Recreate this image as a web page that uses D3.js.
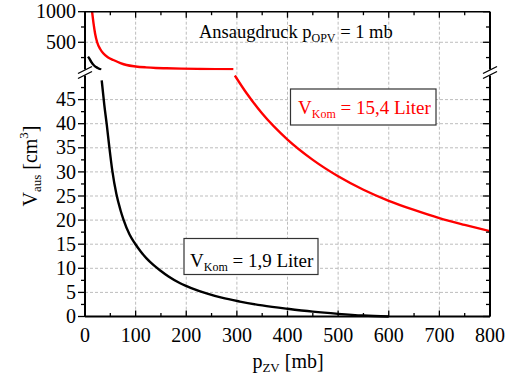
<!DOCTYPE html>
<html>
<head>
<meta charset="utf-8">
<script src="https://cdn.jsdelivr.net/npm/d3@7"></script>
<style>
  html, body { margin: 0; padding: 0; background: #fff; }
  svg { display: block; font-family: "Liberation Serif", "Times New Roman", serif; }
</style>
</head>
<body>
<svg id="chart" width="513" height="379"></svg>
<script>
// Intake pressure p_ZV [mb] and expelled volume V_aus [cm³]
// Large chamber (15,4 Liter), upper (compressed) range of the y axis
const redUpperP = [14, 17, 20, 24, 30, 36, 45, 56, 70, 82, 100, 120, 140, 161, 190, 227, 260, 293];
const redUpperV = [1000, 800, 640, 500, 390, 320, 255, 210, 160, 128, 105, 90, 80, 75, 69, 64, 61, 59];
// Large chamber, lower range
const redLowerP = [296, 320, 350, 400, 450, 500, 550, 600, 650, 700, 750, 800];
const redLowerV = [50.0, 46.2, 42.1, 36.7, 32.5, 29.1, 26.3, 24.0, 22.1, 20.4, 19.0, 17.7];
// Small chamber (1,9 Liter), upper range
const blackUpperP = [6, 9, 13, 18, 25, 32];
const blackUpperV = [265, 230, 170, 120, 80, 52];
// Small chamber, lower range
const blackLowerP = [33, 38, 43, 48, 54, 62, 70, 76, 88, 99, 110, 122, 135, 148, 165, 188, 210, 240, 270, 306, 350, 400, 450, 500, 550, 600];
const blackLowerV = [49, 44, 39.8, 35.2, 30.2, 25.4, 22.1, 20.1, 17.0, 15.1, 13.5, 12.0, 10.7, 9.6, 8.3, 6.9, 5.9, 4.8, 3.9, 3.1, 2.3, 1.6, 1.0, 0.55, 0.2, 0];

// Axis ticks
const xTicks = [0, 100, 200, 300, 400, 500, 600, 700, 800];
const xMinor = [50, 150, 250, 350, 450, 550, 650, 750];
const yUpTicks = [500, 1000];
const yUpMinor = [250, 750];
const yLoTicks = [0, 5, 10, 15, 20, 25, 30, 35, 40, 45];
const yLoMinor = [2.5, 7.5, 12.5, 17.5, 22.5, 27.5, 32.5, 37.5, 42.5, 47.5];

const svg = d3.select("#chart");
const x = d3.scaleLinear().domain([0, 800]).range([85, 490]);
const yUp = d3.scaleLinear().domain([50, 1000]).range([69.8, 11.7]);
const yLo = d3.scaleLinear().domain([0, 50]).range([316.5, 75.5]);
const L = 85, R = 490, T = 11.7, B = 316.5, breakY = 72.5;

// clip regions for the two y ranges
const defs = svg.append("defs");
defs.append("clipPath").attr("id", "clipUp").append("rect")
  .attr("x", L).attr("y", T).attr("width", R - L).attr("height", yUp(50) - T + 0.5);
defs.append("clipPath").attr("id", "clipLo").append("rect")
  .attr("x", L).attr("y", yLo(50) - 0.5).attr("width", R - L).attr("height", B - yLo(50) + 2);

// grid
const grid = svg.append("g").attr("stroke", "#bdbdbd").attr("stroke-width", 1).attr("stroke-dasharray", "3,2");
xTicks.slice(1, -1).forEach(v => {
  grid.append("line").attr("x1", x(v)).attr("x2", x(v)).attr("y1", T).attr("y2", B);
});
grid.append("line").attr("x1", L).attr("x2", R).attr("y1", yUp(500)).attr("y2", yUp(500));
yLoTicks.slice(1).forEach(v => {
  grid.append("line").attr("x1", L).attr("x2", R).attr("y1", yLo(v)).attr("y2", yLo(v));
});

// curves
const lineUp = d3.line().x(d => x(d[0])).y(d => yUp(d[1])).curve(d3.curveMonotoneX);
const lineLo = d3.line().x(d => x(d[0])).y(d => yLo(d[1])).curve(d3.curveMonotoneX);
const zip = (a, b) => a.map((v, i) => [v, b[i]]);

svg.append("path").attr("clip-path", "url(#clipUp)").attr("d", lineUp(zip(redUpperP, redUpperV)))
  .attr("fill", "none").attr("stroke", "#ff0000").attr("stroke-width", 2.4);
svg.append("path").attr("clip-path", "url(#clipLo)").attr("d", lineLo(zip(redLowerP, redLowerV)))
  .attr("fill", "none").attr("stroke", "#ff0000").attr("stroke-width", 2.4);
svg.append("path").attr("clip-path", "url(#clipUp)").attr("d", lineUp(zip(blackUpperP, blackUpperV)))
  .attr("fill", "none").attr("stroke", "#000").attr("stroke-width", 2.4);
svg.append("path").attr("clip-path", "url(#clipLo)").attr("d", lineLo(zip(blackLowerP, blackLowerV)))
  .attr("fill", "none").attr("stroke", "#000").attr("stroke-width", 2.4);

// frame
const frame = svg.append("g").attr("stroke", "#000").attr("fill", "none");
frame.append("line").attr("x1", L).attr("x2", R).attr("y1", T).attr("y2", T).attr("stroke-width", 1.5);
frame.append("line").attr("x1", L).attr("x2", R).attr("y1", B).attr("y2", B).attr("stroke-width", 2);
[L, R].forEach(px => {
  frame.append("line").attr("x1", px).attr("x2", px).attr("y1", T).attr("y2", breakY - 3).attr("stroke-width", 2);
  frame.append("line").attr("x1", px).attr("x2", px).attr("y1", breakY + 3).attr("y2", B).attr("stroke-width", 2);
  // axis break marks
  [-2.5, 2.5].forEach(o => {
    frame.append("line").attr("x1", px - 7).attr("x2", px + 7)
      .attr("y1", breakY + o + 3.5).attr("y2", breakY + o - 3.5).attr("stroke-width", 1.3);
  });
});

// ticks
const ticks = svg.append("g").attr("stroke", "#000").attr("stroke-width", 1.3);
xTicks.forEach(v => {
  ticks.append("line").attr("x1", x(v)).attr("x2", x(v)).attr("y1", B).attr("y2", B - 6);
  ticks.append("line").attr("x1", x(v)).attr("x2", x(v)).attr("y1", T).attr("y2", T + 6);
});
xMinor.forEach(v => {
  ticks.append("line").attr("x1", x(v)).attr("x2", x(v)).attr("y1", B).attr("y2", B - 3.5);
  ticks.append("line").attr("x1", x(v)).attr("x2", x(v)).attr("y1", T).attr("y2", T + 3.5);
});
const yTick = (py, len) => {
  ticks.append("line").attr("x1", L - len).attr("x2", L).attr("y1", py).attr("y2", py);
  ticks.append("line").attr("x1", R - len).attr("x2", R).attr("y1", py).attr("y2", py);
};
yUpTicks.forEach(v => yTick(yUp(v), 7));
yUpMinor.forEach(v => yTick(yUp(v), 4));
yLoTicks.forEach(v => yTick(yLo(v), 7));
yLoMinor.forEach(v => yTick(yLo(v), 4));

// tick labels
const lab = svg.append("g").attr("font-size", 20).attr("fill", "#000");
xTicks.forEach(v => {
  lab.append("text").attr("x", x(v)).attr("y", 341.5).attr("text-anchor", "middle").text(v);
});
yUpTicks.forEach(v => {
  lab.append("text").attr("x", 76).attr("y", yUp(v)).attr("dy", "0.33em").attr("text-anchor", "end").text(v);
});
yLoTicks.forEach(v => {
  lab.append("text").attr("x", 76).attr("y", yLo(v)).attr("dy", "0.33em").attr("text-anchor", "end").text(v);
});

// axis titles
const xt = svg.append("text").attr("x", 288).attr("y", 368).attr("text-anchor", "middle").attr("font-size", 20);
xt.append("tspan").text("p");
xt.append("tspan").attr("font-size", 13).attr("dy", 4).text("ZV");
xt.append("tspan").attr("dy", -4).text(" [mb]");

const yt = svg.append("text").attr("transform", "translate(37,166) rotate(-90)")
  .attr("text-anchor", "middle").attr("font-size", 20);
yt.append("tspan").text("V");
yt.append("tspan").attr("font-size", 13).attr("dy", 4).text("aus");
yt.append("tspan").attr("dy", -4).text(" [cm");
yt.append("tspan").attr("font-size", 13).attr("dy", -9).text("3");
yt.append("tspan").attr("dy", 9).text("]");

// header
const hd = svg.append("text").attr("x", 199).attr("y", 38).attr("font-size", 18.5);
hd.append("tspan").text("Ansaugdruck p");
hd.append("tspan").attr("font-size", 12).attr("dy", 4).text("OPV");
hd.append("tspan").attr("dy", -4).text(" = 1 mb");

// series labels in boxes
function boxLabel(bx, by, bw, bh, tx, ty, value, color) {
  svg.append("rect").attr("x", bx).attr("y", by).attr("width", bw).attr("height", bh)
    .attr("fill", "#fff").attr("stroke", "#333").attr("stroke-width", 1.2);
  const t = svg.append("text").attr("x", tx).attr("y", ty).attr("font-size", 19).attr("fill", color);
  t.append("tspan").text("V");
  t.append("tspan").attr("font-size", 12).attr("dy", 4).text("Kom");
  t.append("tspan").attr("dy", -4).text(" = " + value + " Liter");
}
boxLabel(184, 238.5, 134, 36, 190, 266.5, "1,9", "#000");
boxLabel(290.5, 89, 145.5, 36, 298, 114, "15,4", "#ff0000");
</script>
</body>
</html>
